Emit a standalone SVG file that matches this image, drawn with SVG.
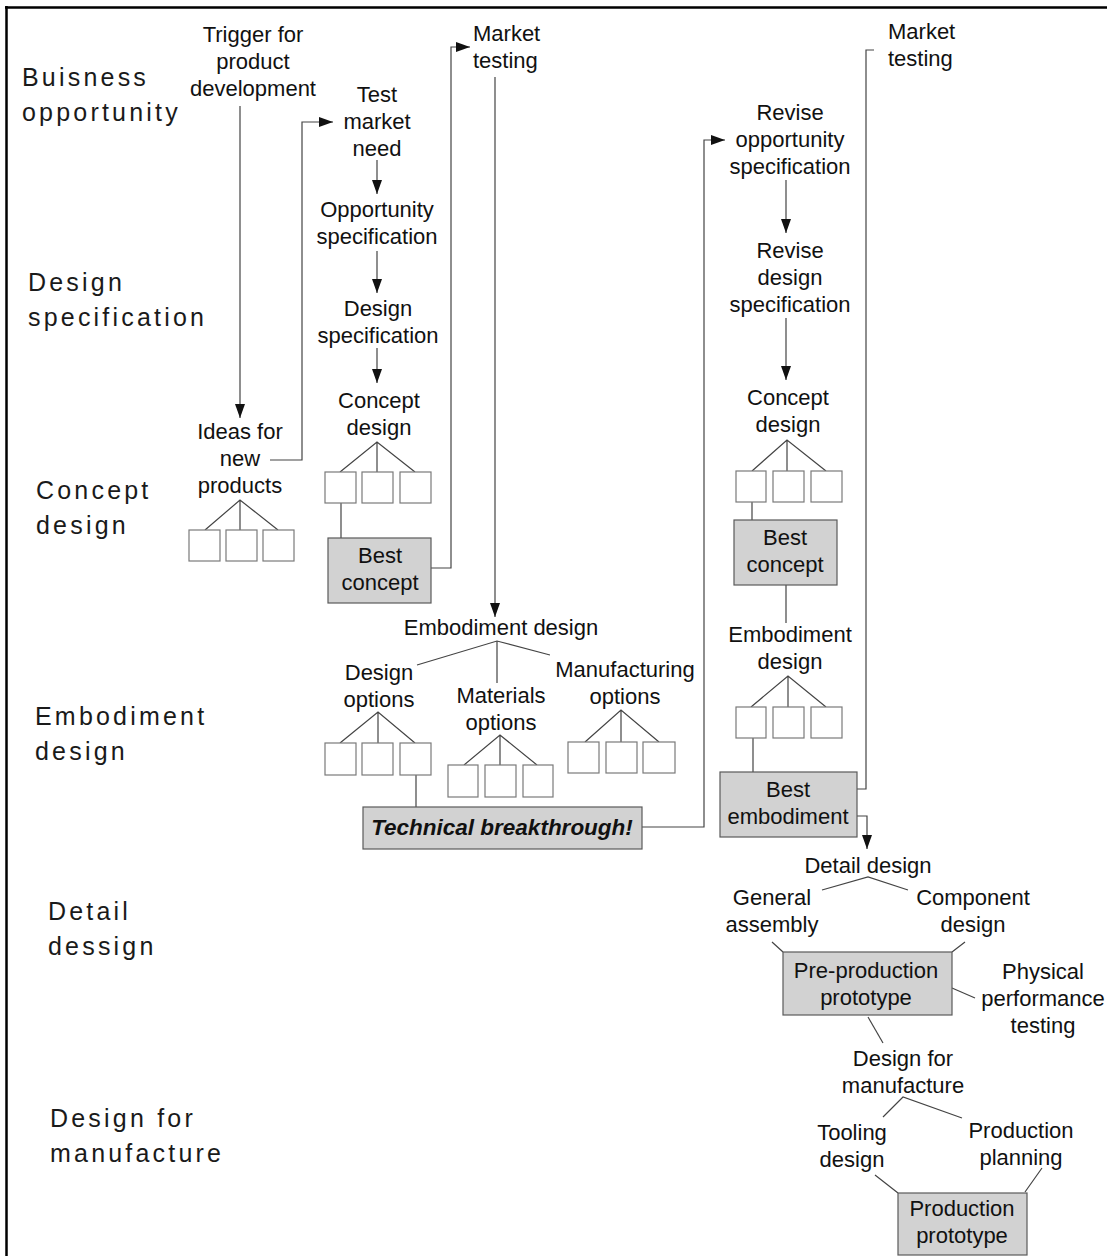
<svg xmlns="http://www.w3.org/2000/svg" width="1107" height="1256" viewBox="0 0 1107 1256">
  <style>
    .stage { font-family: "Liberation Sans", Arial, sans-serif; font-size: 25px; letter-spacing: 3.2px; fill: #1a1a1a; }
    .t { font-family: "Liberation Sans", Arial, sans-serif; font-size: 22px; fill: #111; text-anchor: middle; }
    .tl { font-family: "Liberation Sans", Arial, sans-serif; font-size: 22px; fill: #111; }
    .bold { font-weight: bold; font-style: italic; font-size: 22.5px; }
    .opt { fill: #ffffff; stroke: #7a7a7a; stroke-width: 1.2; }
    .key { fill: #d2d2d2; stroke: #5a5a5a; stroke-width: 1.2; }
    .link { fill: none; stroke: #444; stroke-width: 1.2; }
    .frame { stroke: #000; stroke-width: 2.5; fill: none; }
  </style>
  <defs>
    <marker id="arrow" markerUnits="userSpaceOnUse" markerWidth="15" markerHeight="11" refX="14" refY="5" orient="auto">
      <path d="M0,0 L14,5 L0,10 z" fill="#111"/>
    </marker>
  </defs>

  <rect width="1107" height="1256" fill="#ffffff"/>

  <!-- outer frame: top and left rules -->
  <path class="frame" d="M5,7.5 H1107 M6.5,6 V1256"/>

  <!-- stage labels down the left side -->
  <g id="stages">
    <text class="stage" x="22" y="86">Buisness</text>
    <text class="stage" x="22" y="121">opportunity</text>
    <text class="stage" x="28" y="291">Design</text>
    <text class="stage" x="28" y="326">specification</text>
    <text class="stage" x="36" y="499">Concept</text>
    <text class="stage" x="36" y="534">design</text>
    <text class="stage" x="35" y="725">Embodiment</text>
    <text class="stage" x="35" y="760">design</text>
    <text class="stage" x="48" y="920">Detail</text>
    <text class="stage" x="48" y="955">dessign</text>
    <text class="stage" x="50" y="1127">Design for</text>
    <text class="stage" x="50" y="1162">manufacture</text>
  </g>

  <!-- connectors -->
  <g id="connectors" class="link">
    <path d="M240,106 V418" marker-end="url(#arrow)"/>
    <path d="M270,460 H302 V122 H333" marker-end="url(#arrow)"/>
    <path d="M377,160 V194" marker-end="url(#arrow)"/>
    <path d="M377,251 V293" marker-end="url(#arrow)"/>
    <path d="M377,348 V383" marker-end="url(#arrow)"/>
    <path d="M340,472 L377,442 L415,472 M377,442 V472"/>
    <path d="M341,503 V538"/>
    <path d="M431,568 H451 V47 H470" marker-end="url(#arrow)"/>
    <path d="M495,77 V617" marker-end="url(#arrow)"/>
    <path d="M417,665 L497,641 L550,655 M497,641 V683"/>
    <path d="M340,743 L378,712 L415,743 M378,712 V743"/>
    <path d="M464,765 L500,735 L537,765 M500,735 V765"/>
    <path d="M585,742 L621,710 L659,742 M621,710 V742"/>
    <path d="M416,775 V807"/>
    <path d="M642,827 H704 V140 H725" marker-end="url(#arrow)"/>
    <path d="M786,180 V233" marker-end="url(#arrow)"/>
    <path d="M786,318 V380" marker-end="url(#arrow)"/>
    <path d="M752,471 L787,440 L826,471 M787,440 V471"/>
    <path d="M752,502 V520"/>
    <path d="M786,585 V623"/>
    <path d="M751,707 L788,676 L826,707 M788,676 V707"/>
    <path d="M753,738 V772"/>
    <path d="M857,789 H866 V50 H874"/>
    <path d="M857,816 H867 V849" marker-end="url(#arrow)"/>
    <path d="M822,890 L868,877 L908,890"/>
    <path d="M772,942 L783,952 M965,942 L952,952"/>
    <path d="M952,988 L975,998"/>
    <path d="M868,1017 L883,1043"/>
    <path d="M883,1117 L903,1097 L962,1118"/>
    <path d="M875,1175 L898,1193 M1042,1168 L1025,1192"/>
  </g>

  <!-- first pass: idea generation -->
  <g id="trigger">
    <text class="t" x="253" y="42">Trigger for</text>
    <text class="t" x="253" y="69">product</text>
    <text class="t" x="253" y="96">development</text>
  </g>
  <g id="ideas">
    <text class="t" x="240" y="439">Ideas for</text>
    <text class="t" x="240" y="466">new</text>
    <text class="t" x="240" y="493">products</text>
    <path class="link" d="M205,530 L240,500 L278,530 M240,500 V530"/>
    <rect class="opt" x="189" y="530" width="31" height="31"/>
    <rect class="opt" x="226" y="530" width="31" height="31"/>
    <rect class="opt" x="263" y="530" width="31" height="31"/>
  </g>
  <g id="test-market-need">
    <text class="t" x="377" y="102">Test</text>
    <text class="t" x="377" y="129">market</text>
    <text class="t" x="377" y="156">need</text>
  </g>
  <g id="opportunity-spec">
    <text class="t" x="377" y="217">Opportunity</text>
    <text class="t" x="377" y="244">specification</text>
  </g>
  <g id="design-spec">
    <text class="t" x="378" y="316">Design</text>
    <text class="t" x="378" y="343">specification</text>
  </g>
  <g id="concept-design">
    <text class="t" x="379" y="408">Concept</text>
    <text class="t" x="379" y="435">design</text>
    <rect class="opt" x="325" y="472" width="31" height="31"/>
    <rect class="opt" x="362" y="472" width="31" height="31"/>
    <rect class="opt" x="400" y="472" width="31" height="31"/>
  </g>
  <g id="best-concept">
    <rect class="key" x="328" y="538" width="103" height="65"/>
    <text class="t" x="380" y="563">Best</text>
    <text class="t" x="380" y="590">concept</text>
  </g>
  <g id="market-testing-1">
    <text class="tl" x="473" y="41">Market</text>
    <text class="tl" x="473" y="68">testing</text>
  </g>

  <!-- embodiment stage -->
  <g id="embodiment-design">
    <text class="t" x="501" y="635">Embodiment design</text>
  </g>
  <g id="design-options">
    <text class="t" x="379" y="680">Design</text>
    <text class="t" x="379" y="707">options</text>
    <rect class="opt" x="325" y="743" width="31" height="32"/>
    <rect class="opt" x="362" y="743" width="31" height="32"/>
    <rect class="opt" x="400" y="743" width="31" height="32"/>
  </g>
  <g id="materials-options">
    <text class="t" x="501" y="703">Materials</text>
    <text class="t" x="501" y="730">options</text>
    <rect class="opt" x="448" y="765" width="30" height="32"/>
    <rect class="opt" x="485" y="765" width="31" height="32"/>
    <rect class="opt" x="523" y="765" width="30" height="32"/>
  </g>
  <g id="manufacturing-options">
    <text class="t" x="625" y="677">Manufacturing</text>
    <text class="t" x="625" y="704">options</text>
    <rect class="opt" x="568" y="742" width="31" height="31"/>
    <rect class="opt" x="606" y="742" width="31" height="31"/>
    <rect class="opt" x="643" y="742" width="32" height="31"/>
  </g>
  <g id="technical-breakthrough">
    <rect class="key" x="363" y="807" width="279" height="42"/>
    <text class="t bold" x="502" y="835">Technical breakthrough!</text>
  </g>

  <!-- second pass after the breakthrough -->
  <g id="revise-opportunity">
    <text class="t" x="790" y="120">Revise</text>
    <text class="t" x="790" y="147">opportunity</text>
    <text class="t" x="790" y="174">specification</text>
  </g>
  <g id="revise-design">
    <text class="t" x="790" y="258">Revise</text>
    <text class="t" x="790" y="285">design</text>
    <text class="t" x="790" y="312">specification</text>
  </g>
  <g id="concept-design-2">
    <text class="t" x="788" y="405">Concept</text>
    <text class="t" x="788" y="432">design</text>
    <rect class="opt" x="736" y="471" width="30" height="31"/>
    <rect class="opt" x="773" y="471" width="31" height="31"/>
    <rect class="opt" x="811" y="471" width="31" height="31"/>
  </g>
  <g id="best-concept-2">
    <rect class="key" x="734" y="520" width="103" height="65"/>
    <text class="t" x="785" y="545">Best</text>
    <text class="t" x="785" y="572">concept</text>
  </g>
  <g id="embodiment-design-2">
    <text class="t" x="790" y="642">Embodiment</text>
    <text class="t" x="790" y="669">design</text>
    <rect class="opt" x="736" y="707" width="30" height="31"/>
    <rect class="opt" x="773" y="707" width="31" height="31"/>
    <rect class="opt" x="811" y="707" width="31" height="31"/>
  </g>
  <g id="best-embodiment">
    <rect class="key" x="720" y="772" width="137" height="65"/>
    <text class="t" x="788" y="797">Best</text>
    <text class="t" x="788" y="824">embodiment</text>
  </g>
  <g id="market-testing-2">
    <text class="tl" x="888" y="39">Market</text>
    <text class="tl" x="888" y="66">testing</text>
  </g>

  <!-- detail design and manufacture -->
  <g id="detail-design">
    <text class="t" x="868" y="873">Detail design</text>
  </g>
  <g id="general-assembly">
    <text class="t" x="772" y="905">General</text>
    <text class="t" x="772" y="932">assembly</text>
  </g>
  <g id="component-design">
    <text class="t" x="973" y="905">Component</text>
    <text class="t" x="973" y="932">design</text>
  </g>
  <g id="pre-production-prototype">
    <rect class="key" x="783" y="952" width="169" height="63"/>
    <text class="t" x="866" y="978">Pre-production</text>
    <text class="t" x="866" y="1005">prototype</text>
  </g>
  <g id="physical-testing">
    <text class="t" x="1043" y="979">Physical</text>
    <text class="t" x="1043" y="1006">performance</text>
    <text class="t" x="1043" y="1033">testing</text>
  </g>
  <g id="design-for-manufacture">
    <text class="t" x="903" y="1066">Design for</text>
    <text class="t" x="903" y="1093">manufacture</text>
  </g>
  <g id="tooling-design">
    <text class="t" x="852" y="1140">Tooling</text>
    <text class="t" x="852" y="1167">design</text>
  </g>
  <g id="production-planning">
    <text class="t" x="1021" y="1138">Production</text>
    <text class="t" x="1021" y="1165">planning</text>
  </g>
  <g id="production-prototype">
    <rect class="key" x="898" y="1193" width="129" height="62"/>
    <text class="t" x="962" y="1216">Production</text>
    <text class="t" x="962" y="1243">prototype</text>
  </g>
</svg>
